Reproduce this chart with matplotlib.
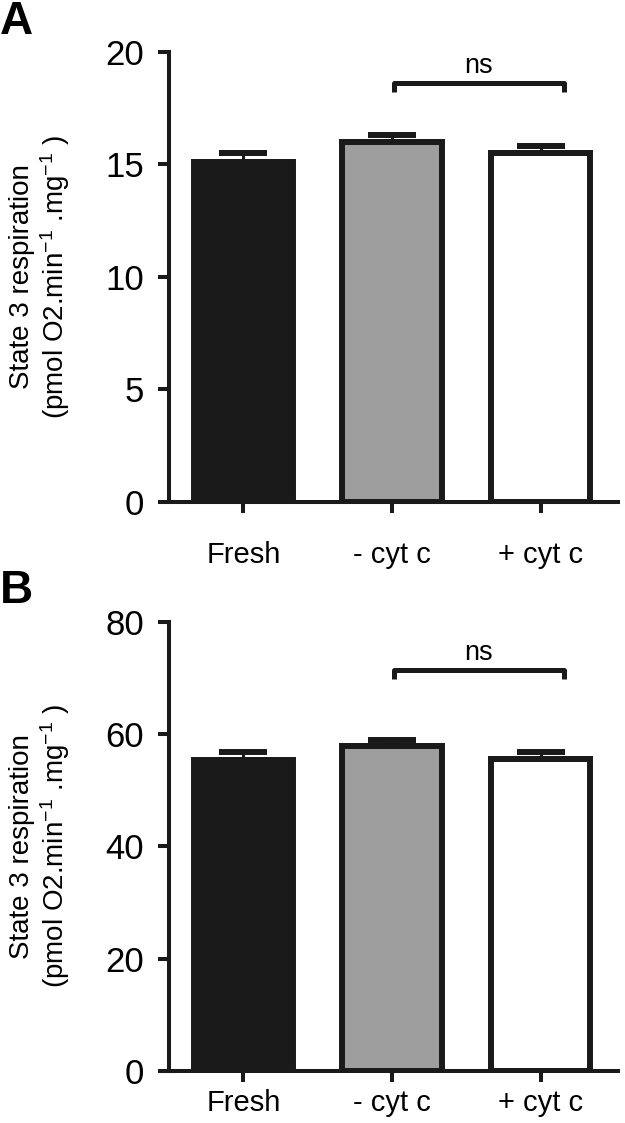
import matplotlib
matplotlib.use("Agg")
import matplotlib.pyplot as plt

# Dados
categorias = ["Fresh", "- cyt c", "+ cyt c"]
media_a = [15.1, 16.0, 15.5]
sem_a = [0.4, 0.3, 0.3]
media_b = [55.3, 57.8, 55.5]
sem_b = [1.5, 1.1, 1.3]
ticks_a = [0, 5, 10, 15, 20]
ticks_b = [0, 20, 40, 60, 80]

cores = ["#1a1a1a", "#9e9e9e", "#ffffff"]
escuro = "#1a1a1a"

plt.rcParams["font.family"] = ["Liberation Sans", "DejaVu Sans"]
plt.rcParams["mathtext.fontset"] = "custom"
plt.rcParams["mathtext.rm"] = "Liberation Sans"
plt.rcParams["mathtext.it"] = "Liberation Sans:italic"
plt.rcParams["mathtext.bf"] = "Liberation Sans:bold"

fig = plt.figure(figsize=(6.25, 11.23), dpi=100)
ax_a = fig.add_axes([0.2704, 0.553, 0.7184, 0.4007])
ax_b = fig.add_axes([0.2704, 0.0463, 0.7184, 0.400])

rotulo_y = "State 3 respiration\n(pmol O2.min$^{-1}$ .mg$^{-1}$ )"


def painel(ax, media, sem, ticks, ymax, chave, chave_base, pad_x):
    x = list(range(len(categorias)))
    ax.bar(x, media, width=0.67, color=cores, edgecolor=escuro,
           linewidth=4.3, zorder=3)
    ax.errorbar(x, media, yerr=[[0] * len(sem), sem], fmt="none",
                ecolor=escuro, elinewidth=2.2, capsize=17, capthick=4.3,
                zorder=2)
    ax.set_xlim(-0.5, 2.52)
    ax.set_ylim(0, ymax)
    ax.set_yticks(ticks)
    ax.set_xticks(x)
    ax.set_xticklabels(categorias, fontsize=21)
    ax.tick_params(axis="y", labelsize=25, length=8, width=2.9, pad=10,
                   color=escuro)
    ax.tick_params(axis="x", length=8, width=2.9, pad=pad_x, color=escuro)
    for lado in ["top", "right"]:
        ax.spines[lado].set_visible(False)
    for lado in ["left", "bottom"]:
        ax.spines[lado].set_linewidth(2.9)
        ax.spines[lado].set_color(escuro)
    ax.set_ylabel(rotulo_y, fontsize=20, linespacing=1.15)
    ax.yaxis.set_label_coords(-0.215, 0.5)
    # Barra de significância
    x0, x1 = 1.01, 2.16
    ax.plot([x0, x0, x1, x1], [chave_base, chave, chave, chave_base],
            color=escuro, lw=3.6, clip_on=False, solid_capstyle="butt")
    ax.text((x0 + x1) / 2, chave + ymax * 0.01, "ns", ha="center",
            va="bottom", fontsize=19.5)


painel(ax_a, media_a, sem_a, ticks_a, 20, 18.6, 18.2, 20)
painel(ax_b, media_b, sem_b, ticks_b, 80, 71.4, 69.8, 5)

# Letras dos painéis
fig.text(0.0, 1.0, "A", fontsize=33, fontweight="bold", ha="left", va="top")
fig.text(0.0, 0.4933, "B", fontsize=33, fontweight="bold", ha="left",
         va="top")

fig.savefig("out.png", dpi=100)
